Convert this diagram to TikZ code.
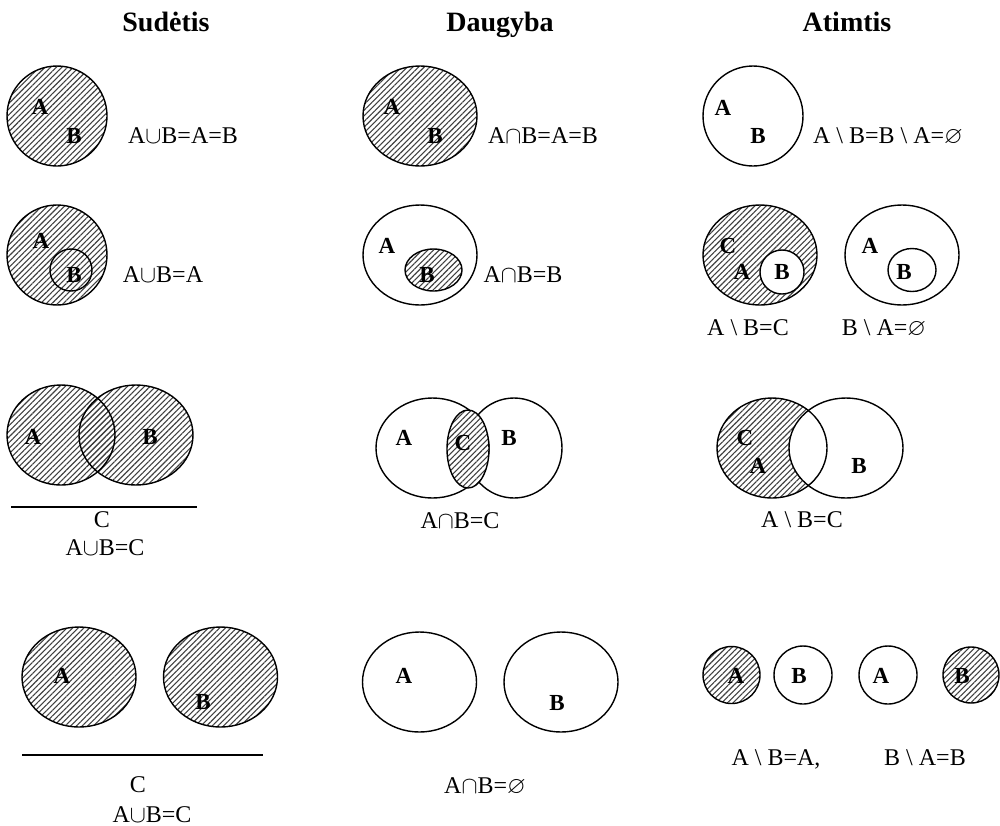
\documentclass[tikz,border=0pt]{standalone}
\usepackage{amssymb}
\usepackage{fontspec}
\setmainfont{Liberation Serif}
\usetikzlibrary{patterns.meta}
\tikzset{
  outl/.style={line width=0.7pt},
  hatch/.style={pattern={Lines[angle=45,distance=2pt,line width=0.55pt]}, pattern color=black!75},
  lab/.style={font=\bfseries\fontsize{11.5}{13}\selectfont, anchor=base, inner sep=0pt},
  frm/.style={font=\fontsize{12}{14}\selectfont, anchor=base, inner sep=0pt},
  ttl/.style={font=\bfseries\fontsize{14}{16}\selectfont, anchor=base, inner sep=0pt},
}
\begin{document}
\begin{tikzpicture}[x=0.5pt,y=-0.5pt]
\useasboundingbox (0,0) rectangle (1000,825);
% titles
\node[ttl] (t1) at (166,31) {Sudėtis};
\node[ttl] (t2) at (500,31) {Daugyba};
\node[ttl] (t3) at (847,31) {Atimtis};

% ---------- Row 1 ----------
\fill[hatch] (57,116) circle [radius=50];
\draw[outl] (57,116) circle [radius=50];
\node[lab] (r1a1) at (40,114) {A};
\node[lab] (r1b1) at (74,143) {B};
\node[frm] (f11) at (183,143) {A$\cup$B=A=B};

\fill[hatch] (420,116) ellipse [x radius=57, y radius=50];
\draw[outl] (420,116) ellipse [x radius=57, y radius=50];
\node[lab] (r1a2) at (392,114) {A};
\node[lab] (r1b2) at (435,143) {B};
\node[frm] (f12) at (543,143) {A$\cap$B=A=B};

\draw[outl] (753,116) circle [radius=50];
\node[lab] (r1a3) at (723,115) {A};
\node[lab] (r1b3) at (758,143) {B};
\node[frm] (f13) at (888,143) {A \textbackslash{} B=B \textbackslash{} A=$\varnothing$};

% ---------- Row 2 ----------
\fill[hatch] (57,255) circle [radius=50];
\draw[outl] (57,255) circle [radius=50];
\draw[outl] (71,270) circle [radius=21];
\node[lab] (r2a1) at (41,248) {A};
\node[lab] (r2b1) at (74,282) {B};
\node[frm] (f21) at (163,282) {A$\cup$B=A};

\draw[outl] (420,255) ellipse [x radius=57, y radius=50];
\fill[hatch] (433.5,270) ellipse [x radius=28.5, y radius=21];
\draw[outl] (433.5,270) ellipse [x radius=28.5, y radius=21];
\node[lab] (r2a2) at (387,253) {A};
\node[lab] (r2b2) at (427,282) {B};
\node[frm] (f22) at (523,282) {A$\cap$B=B};

\fill[hatch] (760,255) ellipse [x radius=57, y radius=50];
\draw[outl] (760,255) ellipse [x radius=57, y radius=50];
\filldraw[outl,fill=white] (782,272) circle [radius=22];
\node[lab] (r2c3) at (728,253) {C};
\node[lab] (r2a3) at (742,279) {A};
\node[lab] (r2b3) at (782,279) {B};
\node[frm] (f23a) at (748,335) {A \textbackslash{} B=C};

\draw[outl] (902,255) ellipse [x radius=57, y radius=50];
\draw[outl] (912,270) ellipse [x radius=24, y radius=21.5];
\node[lab] (r2a4) at (870,253) {A};
\node[lab] (r2b4) at (904,279) {B};
\node[frm] (f23b) at (884,335) {B \textbackslash{} A=$\varnothing$};

% ---------- Row 3 ----------
\fill[hatch] (61,435) ellipse [x radius=54, y radius=50];
\fill[hatch] (136,435) ellipse [x radius=57, y radius=50];
\draw[outl] (61,435) ellipse [x radius=54, y radius=50];
\draw[outl] (136,435) ellipse [x radius=57, y radius=50];
\node[lab] (r3a1) at (33,444) {A};
\node[lab] (r3b1) at (150,444) {B};
\coordinate (l3s) at (11,507);
\coordinate (l3e) at (197,507);
\draw[outl] (l3s) -- (l3e);
\node[frm] (r3c1) at (102,527) {C};
\node[frm] (f31) at (105,555) {A$\cup$B=C};

\draw[outl] (432.5,448) ellipse [x radius=56.5, y radius=50];
\draw[outl] (514,448) ellipse [x radius=48, y radius=50];
\fill[white] (468,449) ellipse [x radius=21, y radius=39];
\fill[hatch] (468,449) ellipse [x radius=21, y radius=39];
\draw[outl] (468,449) ellipse [x radius=21, y radius=39];
\node[lab] (r3a2) at (404,445) {A};
\node[lab] (r3c2) at (463,450) {C};
\node[lab] (r3b2) at (509,445) {B};
\node[frm] (f32) at (460,528) {A$\cap$B=C};

\fill[hatch] (772,448) ellipse [x radius=55, y radius=50];
\fill[white] (846,448) ellipse [x radius=57, y radius=50];
\draw[outl] (772,448) ellipse [x radius=55, y radius=50];
\draw[outl] (846,448) ellipse [x radius=57, y radius=50];
\node[lab] (r3c3) at (745,445) {C};
\node[lab] (r3a3) at (758,473) {A};
\node[lab] (r3b3) at (859,473) {B};
\node[frm] (f33) at (802,527) {A \textbackslash{} B=C};

% ---------- Row 4 ----------
\fill[hatch] (79,677) ellipse [x radius=57, y radius=50];
\fill[hatch] (220.5,677) ellipse [x radius=57, y radius=50];
\draw[outl] (79,677) ellipse [x radius=57, y radius=50];
\draw[outl] (220.5,677) ellipse [x radius=57, y radius=50];
\node[lab] (r4a1) at (62,683) {A};
\node[lab] (r4b1) at (203,709) {B};
\coordinate (l4s) at (22,755);
\coordinate (l4e) at (263,755);
\draw[outl] (l4s) -- (l4e);
\node[frm] (r4c1) at (138,792) {C};
\node[frm] (f41) at (152,822) {A$\cup$B=C};

\draw[outl] (419.5,682) ellipse [x radius=57, y radius=50];
\draw[outl] (561,682) ellipse [x radius=57, y radius=50];
\node[lab] (r4a2) at (404,683) {A};
\node[lab] (r4b2) at (557,710) {B};
\node[frm] (f42) at (485,793) {A$\cap$B=$\varnothing$};

\fill[hatch] (731.5,675) circle [radius=28.5];
\draw[outl] (731.5,675) circle [radius=28.5];
\draw[outl] (803,675) circle [radius=29];
\draw[outl] (888,675) circle [radius=29];
\fill[hatch] (971,675) circle [radius=28];
\draw[outl] (971,675) circle [radius=28];
\node[lab] (r4a3) at (736,683) {A};
\node[lab] (r4b3) at (799,683) {B};
\node[lab] (r4a4) at (881,683) {A};
\node[lab] (r4b4) at (962,683) {B};
\node[frm] (f43a) at (776,765) {A \textbackslash{} B=A,};
\node[frm] (f43b) at (925,765) {B \textbackslash{} A=B};
\end{tikzpicture}
\end{document}
